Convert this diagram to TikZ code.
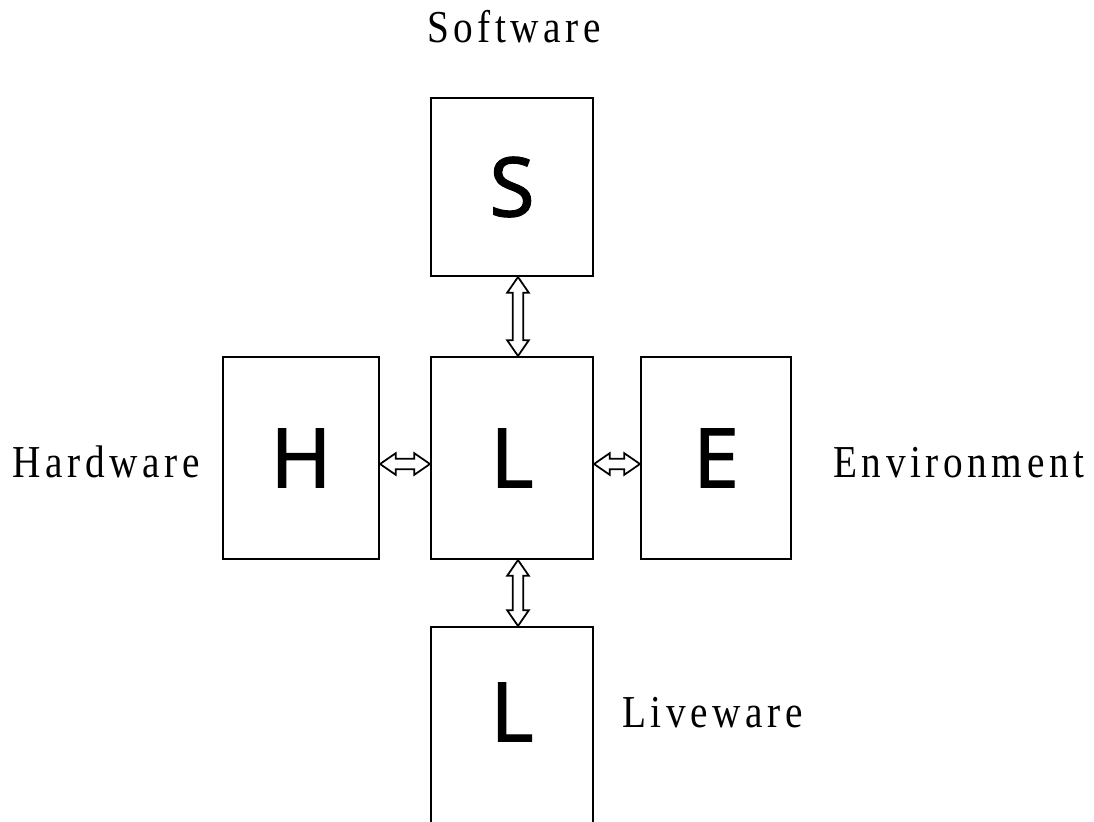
\documentclass[tikz,border=0pt]{standalone}
\usepackage{fontspec}
\setmainfont{Liberation Serif}
\newfontfamily\boxfont[FakeBold=1.2]{Noto Sans}
\newfontfamily\labelfont[FakeStretch=0.86,LetterSpace=10]{Liberation Serif}
\usetikzlibrary{calc}

\tikzset{
  unit/.style={draw, line width=1.2pt, inner sep=0pt, minimum width=3.24cm,
    minimum height=4.04cm, font=\boxfont\fontsize{47}{48}\selectfont},
  tag/.style={inner sep=0pt, font=\labelfont\fontsize{26}{28}\selectfont},
  link/.style={line width=1pt, line join=miter},
  hollow/.style={to path={let \p1=($(\tikztotarget)-(\tikztostart)$),
    \n1={veclen(\x1,\y1)}, \n2={atan2(\y1,\x1)} in
    [shift={(\tikztostart)}, rotate=\n2]
    (0pt,0pt) -- (9pt,6.2pt) -- (9pt,3pt) -- ({\n1*1pt-9pt},3pt)
    -- ({\n1*1pt-9pt},6.2pt) -- ({\n1*1pt},0pt) -- ({\n1*1pt-9pt},-6.2pt)
    -- ({\n1*1pt-9pt},-3pt) -- (9pt,-3pt) -- (9pt,-6.2pt) -- cycle}}
}

\begin{document}
\begin{tikzpicture}[x=0.02cm, y=-0.02cm]
  \useasboundingbox (0,0) rectangle (1094,821);

  % the five boxes
  \node[unit, minimum height=3.56cm] (S) at (512,187) {S};
  \node[unit] (Lc) at (512,458) {L};
  \node[unit, minimum width=3.12cm] (H) at (301,458) {H};
  \node[unit, minimum width=3.0cm] (E) at (716,458) {E};
  \node[unit, text depth=0.64cm] (Lb) at (512,728) {L};

  % names
  \node[tag, anchor=base] (sw) at (514,43) {Software};
  \node[tag, anchor=base east] (hw) at (200,477) {Hardware};
  \node[tag, anchor=base west] (ev) at (833,477) {Environment};
  \node[tag, anchor=base west] (lw) at (622,727) {Liveware};

  % interfaces
  \draw[link] ([xshift=0.12cm]S.south) to[hollow] ([xshift=0.12cm]Lc.north);
  \draw[link] ([xshift=0.12cm]Lc.south) to[hollow] ([xshift=0.12cm]Lb.north);
  \draw[link] ([yshift=-0.12cm]H.east) to[hollow] ([yshift=-0.12cm]Lc.west);
  \draw[link] ([yshift=-0.12cm]Lc.east) to[hollow] ([yshift=-0.12cm]E.west);
\end{tikzpicture}
\end{document}
